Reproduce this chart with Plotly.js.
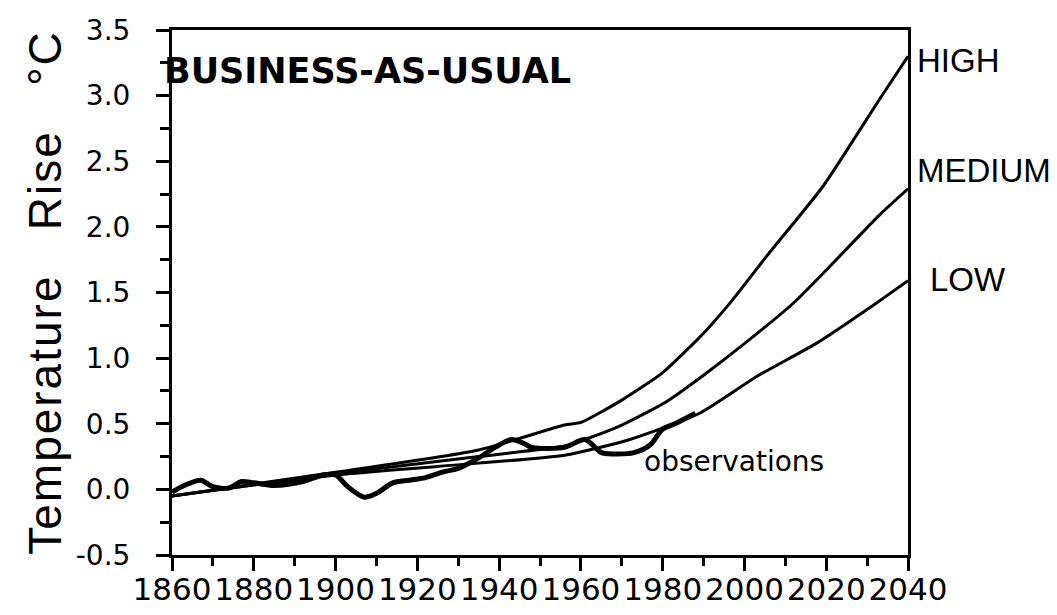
<!DOCTYPE html>
<html>
<head>
<meta charset="utf-8">
<script src="https://cdn.plot.ly/plotly-3.0.1.min.js"></script>
<style>
html, body { margin: 0; padding: 0; background: #fff; }
#chart { width: 1057px; height: 615px; }
.ytitle { letter-spacing: 2px; }
</style>
</head>
<body>
<div id="chart"></div>
<script>
// Observations
const obsYears = [1860,1863,1867,1870,1874,1877,1880,1885,1892,1897,1900,1903,1907,1910,1914,1918,1922,1926,1930,1935,1939,1943,1946,1948,1956,1961,1965,1968,1973,1977,1980,1983,1988];
const obsValues = [-0.02,0.03,0.07,0.02,0.01,0.06,0.05,0.03,0.06,0.11,0.11,0.02,-0.06,-0.03,0.05,0.07,0.09,0.13,0.16,0.24,0.32,0.38,0.35,0.32,0.32,0.38,0.28,0.27,0.28,0.34,0.46,0.50,0.58];

// Scenario projections
const highYears = [1860,1900,1935,1956,1960,1970,1980,1990,1997,2005,2019,2026,2033,2040];
const highValues = [-0.05,0.13,0.30,0.49,0.51,0.68,0.89,1.19,1.44,1.76,2.30,2.63,2.97,3.30];

const mediumYears = [1860,1900,1935,1956,1960,1970,1981,1990,2000,2012,2024,2033,2040];
const mediumValues = [-0.05,0.12,0.25,0.33,0.37,0.49,0.67,0.87,1.11,1.42,1.80,2.09,2.29];

const lowYears = [1860,1900,1935,1956,1972,1989,2003,2018,2030,2040];
const lowValues = [-0.05,0.11,0.20,0.26,0.38,0.58,0.86,1.12,1.37,1.59];

const xTicks = [1860,1880,1900,1920,1940,1960,1980,2000,2020,2040];
const yTicks = [-0.5,0.0,0.5,1.0,1.5,2.0,2.5,3.0,3.5];
const yTickText = ['-0.5','0.0','0.5','1.0','1.5','2.0','2.5','3.0','3.5'];

const scenarioNames = ['HIGH','MEDIUM','LOW'];
const scenarioLabelY = [3.27,2.43,1.6];

const lineStyle = {color: '#000', width: 3, shape: 'spline', smoothing: 0.6};

const traces = [
  {x: highYears, y: highValues, mode: 'lines', name: 'HIGH', line: lineStyle, hoverinfo: 'skip'},
  {x: mediumYears, y: mediumValues, mode: 'lines', name: 'MEDIUM', line: lineStyle, hoverinfo: 'skip'},
  {x: lowYears, y: lowValues, mode: 'lines', name: 'LOW', line: lineStyle, hoverinfo: 'skip'},
  {x: obsYears, y: obsValues, mode: 'lines', name: 'observations',
   line: {color: '#000', width: 5, shape: 'spline', smoothing: 0.8}, hoverinfo: 'skip'}
];

const annotations = [
  {xref: 'x', yref: 'y', x: 1860, y: 3.19, xanchor: 'left', yanchor: 'middle', showarrow: false, xshift: -10,
   text: 'BUSINESS-AS-USUAL', font: {family: 'DejaVu Sans', size: 35, color: '#000', weight: 'bold'}},
  {xref: 'x', yref: 'y', x: 1975, y: 0.21, xanchor: 'left', yanchor: 'middle', showarrow: false,
   text: 'observations', font: {family: 'DejaVu Sans', size: 28, color: '#000'}}
];
scenarioNames.forEach((n, i) => {
  annotations.push({xref: 'paper', yref: 'y', x: 1, y: scenarioLabelY[i], xanchor: 'left', yanchor: 'middle',
    xshift: (n === 'LOW' ? 20 : 7), showarrow: false, text: n,
    font: {family: 'Liberation Sans', size: 33, color: '#000'}});
});

const layout = {
  width: 1057, height: 615,
  margin: {l: 172, r: 149, t: 30, b: 60},
  paper_bgcolor: '#fff', plot_bgcolor: '#fff',
  showlegend: false,
  xaxis: {
    range: [1860, 2040], tickmode: 'array', tickvals: xTicks, ticktext: xTicks.map(String),
    showgrid: false, zeroline: false, showline: true, mirror: true, linecolor: '#000', linewidth: 3,
    ticks: 'outside', ticklen: 13, tickwidth: 3, tickcolor: '#000', tickangle: 0,
    minor: {dtick: 10, tick0: 1870, ticks: 'outside', ticklen: 8, tickwidth: 3, tickcolor: '#000', showgrid: false},
    tickfont: {family: 'DejaVu Sans', size: 31, color: '#000'}, ticklabelstandoff: -8
  },
  yaxis: {
    range: [-0.5, 3.5], tickmode: 'array', tickvals: yTicks, ticktext: yTickText,
    showgrid: false, zeroline: false, showline: true, mirror: true, linecolor: '#000', linewidth: 3,
    ticks: 'outside', ticklen: 13, tickwidth: 3, tickcolor: '#000',
    minor: {dtick: 0.25, tick0: -0.25, ticks: 'outside', ticklen: 9, tickwidth: 3, tickcolor: '#000', showgrid: false},
    tickfont: {family: 'DejaVu Sans', size: 28, color: '#000'}, ticklabelstandoff: 20,
    title: {text: 'Temperature\u00A0\u00A0\u00A0Rise\u00A0\u00A0\u00A0\u00B0C', font: {family: 'Liberation Sans', size: 46, color: '#000'}, standoff: 0}
  },
  annotations: annotations
};

Plotly.newPlot('chart', traces, layout, {staticPlot: true, displayModeBar: false});
</script>
</body>
</html>
